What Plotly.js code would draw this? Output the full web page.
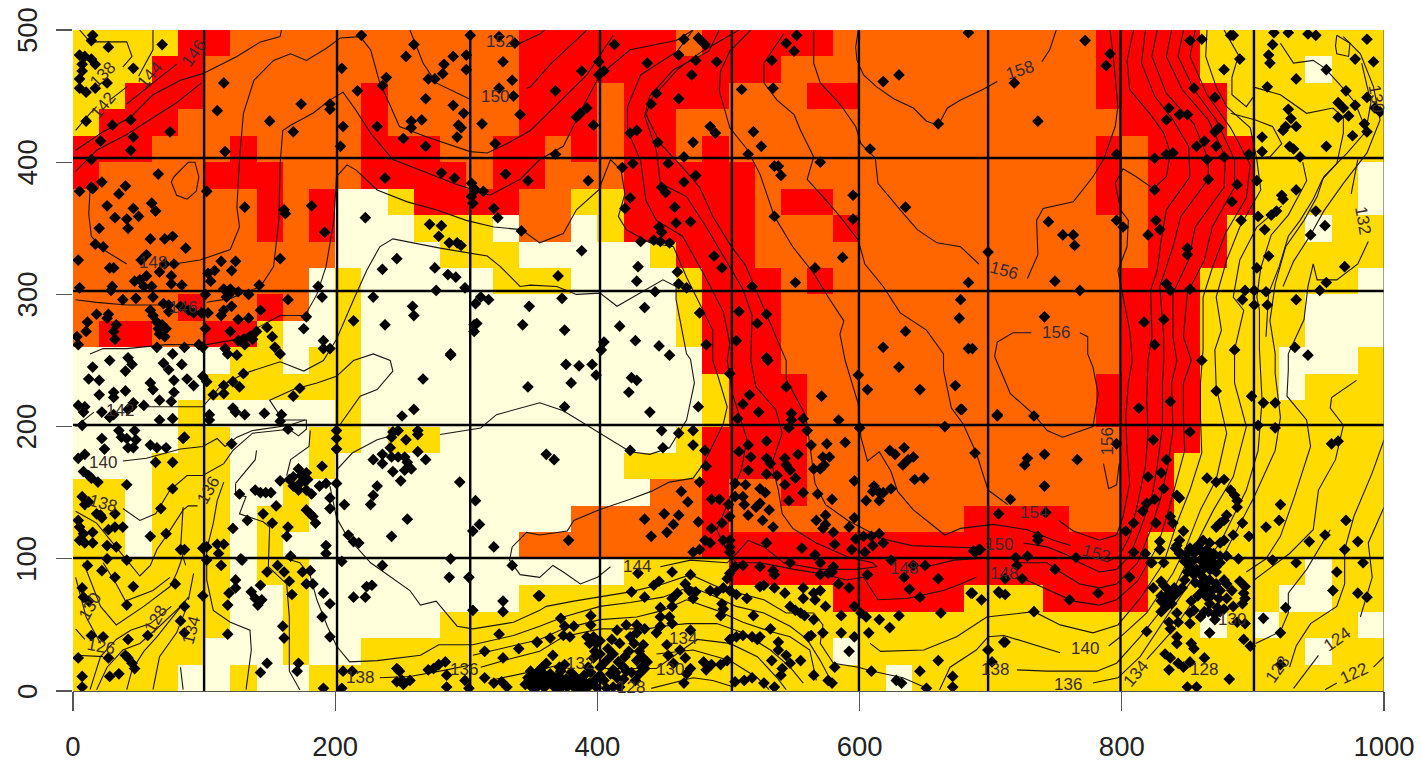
<!DOCTYPE html>
<html><head><meta charset="utf-8">
<script src="https://cdn.plot.ly/plotly-3.0.1.min.js"></script>
<style>html,body{margin:0;padding:0;background:#fff}#c{width:1422px;height:763px}</style>
</head><body><div id="c"></div>
<script>
// category per 20x20 cell, rows listed from the top (y 480-500) down, as run lengths
const rowRuns = [
"Y4 R2 O11 R6 O1 R5 O10 R4 Y7",
"Y3 R2 O12 R10 O12 R4 Y4 W1 Y2",
"Y2 R3 O6 R1 O5 R3 O1 R4 O3 R2 O9 R5 Y6",
"Y1 R3 O7 R1 O5 R3 O1 R2 O17 R4 Y6",
"R3 O3 R1 O4 R3 O2 R2 O1 R1 O1 R2 O1 R1 O14 R1 O1 R4 Y5",
"R1 O4 R3 O3 R4 O1 R2 O3 R5 O13 R1 O1 R4 Y4 W1",
"O7 R1 O1 R1 W2 Y1 R4 O2 Y2 R5 O1 R2 O10 R1 O1 R4 Y4 W1",
"O7 R1 O1 R1 W3 Y3 W1 O2 W1 Y1 R5 O3 R1 O11 R3 Y3 W1 Y2",
"O10 W4 Y3 W5 Y1 R3 O15 R3 Y6",
"O9 W1 Y1 W5 Y3 W4 Y1 R3 O1 R1 O11 R3 Y6 W1",
"O4 R1 O2 R1 O1 W1 Y1 W12 Y1 R3 O13 R3 Y4 W3",
"O1 R2 O2 R2 Y1 W2 Y1 W12 Y1 R3 O13 R3 Y4 W3",
"W6 Y2 W1 Y2 W13 R3 O13 R3 Y3 W3 Y1",
"W5 Y6 W13 Y1 R3 O11 R4 Y3 W1 Y3",
"W4 Y1 W5 Y1 W13 Y1 R3 O11 R4 Y7",
"W4 Y2 W3 Y2 W1 Y2 W9 Y1 R4 O12 R3 Y7",
"W3 Y3 W3 Y1 W11 Y3 R4 O12 R2 Y8",
"Y2 W1 Y3 W2 Y1 W13 O2 R1 O2 R1 O12 R2 Y8",
"Y2 W1 Y3 W1 Y2 W10 O5 R1 O9 R4 O2 R2 Y8",
"Y2 W1 Y3 W1 Y1 W9 O7 R17 Y9",
"Y6 W1 Y2 W12 Y4 R16 Y6 W1 Y2",
"Y6 W2 Y1 W8 Y12 R5 Y3 R4 Y5 W2 Y2",
"Y6 W2 Y1 W5 Y29 W1 Y1 W1 Y3 W1",
"Y5 W3 Y1 W2 Y18 W1 Y17 W1 Y2",
"Y4 W2 Y1 W2 Y22 W1 Y18"
];
const classColors = ["#FFFFDC","#FFDB00","#FF6600","#FF0000"];
const classCodes = {W:0,Y:1,O:2,R:3};
const cellXs = [10,30,50,70,90,110,130,150,170,190,210,230,250,270,290,310,330,350,370,390,410,430,450,470,490,510,530,550,570,590,610,630,650,670,690,710,730,750,770,790,810,830,850,870,890,910,930,950,970,990];
const cellYs = [10,30,50,70,90,110,130,150,170,190,210,230,250,270,290,310,330,350,370,390,410,430,450,470,490];

const gridXs = [100,201.4,303,402,502.6,599.5,698,799,900.8];
const gridYs = [100.6,201.2,302.6,403.2];
const xTicks = [0,200,400,600,800,1000];
const yTicks = [0,100,200,300,400,500];

// contours: flat x,y lists
const contours = [
[599,500,597,487,598,477,603,466,613,457,626,448,641,441,651,431,660,428,667,441,677,447,694,455,705,461],
[739,476,745,485,750,500],
[565,500,565,475,570,460,585,444,597,427,601,414,612,403,614,384,631,364,644,349,659,339,677,336,691,323],
[728,312,736,330,735,356,740,365,763,370,778,389,786,402,795,427,797,442,794,475,791,500],
[731,271,717,271,705,264,703,253,715,225,733,209,743,197,755,192,778,200,782,225,778,245,774,255,774,268,768,271],
[542,497,527,475,527,460,537,447,550,436,555,424,565,404,560,387,572,374,585,359,599,341,604,323,618,306,631,286,651,273,664,255,664,243,670,214,679,202,689,180,698,152,713,141],
[752,129,763,121,783,114,796,118,801,132,806,157,804,182,803,207,805,233,808,250,806,273,799,306,797,318,804,336,805,356,799,364,795,384,801,395,811,389,824,380,834,389,837,407,832,422,822,436,806,455,804,477,809,500],
[786,172,790,153,796,156,798,172],
[517,500,501,484,494,469,493,454,501,426,514,410,524,391,535,359,549,336,565,316,576,298,588,280,585,270,589,250,599,217,601,192,606,174,615,181,624,166,629,151,641,137,654,127,665,118,677,123,702,126,728,122,748,114,761,110],
[789,98,798,102,806,117,811,137,818,170,820,195,819,221,820,250,823,268,822,303,827,318,830,341,834,364,852,389,851,412,839,432,825,450,815,475,818,500],
[508,500,480,484,461,470,442,449,437,436,448,414,465,396,478,381,488,359,501,338,513,322,544,250,544,236,559,208,566,157,574,141,591,129,618,115,640,110,677,109,695,108],
[725,112,743,109,758,103,768,97,783,90,796,92,806,102,814,122,823,147,827,170,831,200,831,233,832,250,832,268,829,306,839,336,845,359,866,387,866,402,855,429,834,452,823,480,827,500],
[493,500,485,484,458,470,440,450,436,435,445,409,448,384,468,374,483,351,498,326,511,304,518,284,517,250,521,230,536,213,541,195,533,172,538,152,541,134,549,123,567,112,592,101,610,97,613,94],
[651,94,672,99,689,100],[720,97,743,97,753,90,768,81,783,78,796,81,812,97,822,122,830,147,835,170,839,197,838,233,842,250,839,268,839,301,851,326,856,351,878,381,879,404,866,432,846,455,834,480,838,500],
[473,500,461,484,433,466,423,442,423,424,433,401,437,371,445,356,465,344,483,312,496,287,501,263,499,250,503,225,514,191,510,168,499,141,491,122,499,106,506,97,524,97,550,92,570,89,590,84,603,86,614,69,636,70,664,76,677,81,689,86],
[725,85,748,75,763,68,783,65,796,69,812,83,827,109,835,134,841,157,848,182,847,207,847,233,853,250,847,268,850,301,863,326,869,351,886,381,886,402,872,432,855,455,843,480,847,500],
[608,36,616,30,649,31,674,41,697,56,733,60,753,50,778,44,797,50,814,70,832,97,842,127,852,152,861,180,860,207,860,233,862,258,862,268,862,298,869,320,879,346,895,373,898,398,883,426,865,451,852,480,856,500],
[661,1,669,18,689,31,698,41,710,42,753,29],[790,34,799,41,819,59,839,89,849,109,860,137,872,160,880,195,872,230,871,258,876,273,872,298,880,326,890,351,906,379,903,402,898,426,880,442,872,457,864,480,865,500],
[720,16,743,15,781,15,796,21,814,41,834,66,852,102,870,137,885,162,895,200,886,233,886,258,893,288,885,298,890,326,903,351,922,367],
[778,6,797,10,814,26,834,56,857,89,875,112,895,152,904,182,907,220,905,258,905,288,903,298,906,320,914,345,927,360,941,386,938,400],
[819,24,839,46,860,76,880,107,901,147,917,182,921,207,917,240,917,255,913,280,917,308,925,336,939,356,949,374,954,389,972,407,986,423,990,445,983,475],
[980,402,975,376],[988,340,980,323,964,311,949,311,946,323,942,306,939,281,927,255,927,243,926,223,941,205,944,185,931,145,921,117,910,100,895,90],
[979,235,960,222,959,214,969,201,963,175,950,152,946,122,928,104,901,84],
[1000,190,991,165,977,132,970,107,970,81,964,64,944,51,933,34,928,18],
[1000,139,988,112,991,86,982,56],[950,27,939,13,931,2],[1000,26,992,18],[964,6,955,1],
[902,36,921,45,927,59,927,74,941,92,953,112,959,122],
[13,379,12,361,14,344,23,334,41,323],[77,323,97,326,120,334,127,351,125,366,127,402,130,437,138,462,153,477,166,482,178,477,193,486,204,494,219,495,227,485,234,460,241,445,249,427,270,419,303,408,316,407,331,414,349,424,374,448,392,466,412,496],
[257,500,267,475,277,460,302,448],[346,456,349,457,364,474,380,489,392,500],[341,490,356,497,360,500],
[2,296,18,294,41,292,70,292],[102,294,120,297,143,306,153,321,157,356,158,399,160,424,166,428,183,437,196,447,206,453,216,439,227,422,244,402,270,392,290,384,318,375,341,387,356,402,374,412,389,442,402,466,425,485,460,492,473,500],
[2,409,23,423,44,434,61,451,82,462,99,467,125,480,143,491,158,495,159,500],
[2,393,18,409,41,421,79,445,98,460],[61,500,61,485,50,465],[41,457,28,447],[79,474,66,464,41,444],[5,500,13,491,41,491,45,480,38,472],[2,424,13,437,18,442],
[77,389,88,400,93,400,96,389,94,378,87,372,79,375,75,385,77,389],
[13,255,23,259,41,259,71,262,102,262,125,266,143,276,158,284,177,284,186,300,193,321,199,356,201,389,209,398,216,394,232,379,255,370,277,364,300,356,321,351,342,349,356,339,374,346,384,364,401,379,410,402,418,394,421,376,416,359,422,349,440,339,458,336,468,313,478,293,488,273,488,250,492,238,499,215,496,202,481,172,473,161,455,158,441,151,425,145,401,137,382,129,377,121,356,118,346,120,335,109,333,99,341,88,356,86,366,95,374,90,387,81,400,86,410,94],
[448,94,471,99,499,97,506,104,515,114,527,109,542,97,570,92,598,92,613,94],
[196,155,201,131,209,117,227,97,257,76,265,65,277,68,293,49,305,47,336,52,356,61,361,64,382,68,402,71,425,75,450,81,471,88,491,79,504,75,527,69,544,59,565,59,572,50,570,36,580,21,599,18,610,15,633,10,654,1],
[201,167,213,180,232,190,246,194],[280,194,311,199,323,209,356,218,374,212,387,204,402,195,425,181,440,179,455,184,468,205,474,233,471,251,468,255,460,296,460,306,450,311,436,303,415,291,402,301,384,300,369,306,349,307,341,306,326,321,316,329,280,335,244,342,234,336,224,318,214,296,201,266,191,250,176,242,158,249,130,240,112,230,99,215,54,215],
[16,211,2,200],
[38,174,56,176,82,183,99,185,110,191,116,185,125,192,137,197,165,201,177,205],
[38,138,51,129,63,134,74,152,87,163,99,163,115,172,122,182,137,195,165,198,172,193,178,198,178,205,160,205,150,220,168,228,186,233,201,238,214,250,229,255,242,250,244,242,232,228,219,223,204,202],
[181,197,180,185,166,175,163,163],
[2,136,18,127,41,99,51,87,59,95,64,107,71,117,84,137,88,140,95,140],
[84,139,82,107,86,95],
[115,158,110,144,107,127,102,107,102,84,107,61,120,52,135,46,136,31,132,1],
[124,157,124,149,132,147,127,134,145,128,150,124,149,94,163,81,165,56,165,15,173,1],
[140,182,139,175,124,157],
[160,101,173,97,181,87,186,69,194,49,201,34,211,22,232,23,265,27,279,35,305,35,336,42,356,49,374,56,402,64,425,67,450,71,471,79,491,71,506,64,527,59,547,49,560,39,570,23,578,8],
[305,27,336,34,356,39,374,47,402,54,430,56,450,61,468,69,491,61,511,52,532,45,547,41,562,31,567,8],
[311,18,336,25,356,30,374,41,402,47,438,47,450,49,468,51,491,51,511,44,532,31,547,18,557,6],
[318,8,356,16,372,20],[399,17,445,17,476,39,501,36,522,26,537,10,544,1],
[445,28,473,31,501,23,522,10,531,1],[441,2,473,10,488,8,504,3],
[234,10,257,11,285,16,305,20],
[8,97,21,64,33,50,54,64,74,79,79,89,82,97,85,107],
[23,97,33,81,40,68,61,76,74,86],
[2,86,10,56,21,36],[2,47,9,39],
[88,71,76,56,64,41,54,30,45,16,41,1],
[82,64,66,49,51,36,38,31,26,18,18,1],
[75,64,59,51,44,46,33,39,21,26,13,1],
[2,27,23,26],
[92,89,88,69],
[87,64,79,44,66,26,61,1],
[82,18,84,1],
[878,500,889,481,884,464,884,451,895,442,900,449],
[900,457,921,451,941,437,961,441,969,434,969,422,964,399,953,387,946,372,936,356,927,344,920,321,912,301,910,268],
[883,437,902,432,915,427,922,414,913,404,901,403],
[921,490,931,475,946,477,955,471,966,459,978,445,986,425],
[964,496,974,490,973,480,964,482,963,488,964,496],
[969,495,982,482,992,457,997,432,987,407,969,384,954,363,944,345,931,325,923,306]
];

const labelTexts = ["152","150","146","144","142","138","148","146","158","156","156","156","154","150","152","148","148","144","140","138","136","134","128","128","124","122","130","132","130","142","140","138","136","134","128","126","130","138","136","134","132","130","128"];
const labelXs = [326,322,92,59,23,23,61,84,722,710,750,789,733,706,780,710,634,430,772,703,759,811,863,919,964,977,884,984,994,36,23,23,103,90,63,21,13,219,298,465,387,455,426];
const labelYs = [491,450,482,466,443,466,324,290,469,318,271,189,135,111,104,89,93,94,32,16,5,13,16,16,39,13,54,356,448,212,173,142,152,46,54,34,64,10,16,40,21,16,3];
const labelAngles = [0,0,-55,-50,-50,-45,0,0,-18,15,0,-90,0,0,15,0,0,0,0,0,0,-50,0,-55,-35,-25,0,80,80,0,0,15,-60,-75,-60,10,-60,0,0,0,0,0,0];

const points = [
[15,496],[14,492],[27,487],[68,489],[5,481],[9,480],[14,478],[17,474],[7,474],[7,469],[5,463],[26,460],[5,456],[10,453],[17,456],[46,471],[10,431],[30,428],[44,432],[21,416],[46,419],[74,423],[44,409],[14,402],
[65,391],[22,385],[14,381],[15,380],[5,378],[40,382],[35,376],[26,367],[60,369],[63,363],[46,365],[50,359],[32,358],[41,357],[42,350],[20,350],[59,342],[70,342],[76,344],[17,338],[23,336],[86,335],[56,330],[52,326],[4,326],[28,320],[31,320],[66,317],[70,323],[77,323],[75,314],[56,314],[51,311],[47,310],[83,307],[75,308],[60,306],[54,306],[30,306],[29,303],[5,305],
[38,296],[48,297],[61,298],[69,293],[73,292],[59,288],[61,284],[73,287],[82,291],[88,288],[92,286],[18,285],[27,285],[26,282],[11,279],[10,272],[33,277],[31,272],[32,266],[64,279],[68,277],[71,274],[65,274],[66,270],[70,268],[3,268],[4,262],[64,260],[85,260],[96,262],[99,260],
[102,378],[131,366],[115,460],[110,439],[150,431],[174,444],[196,444],[196,440],[168,423],[116,408],[161,364],[162,361],[182,367],[192,347],[158,327],[113,325],[124,325],[108,318],[121,318],[103,316],[105,310],[142,307],[115,304],[120,304],[126,302],[134,300],[117,298],[119,300],[101,300],[121,291],[115,288],[103,286],[98,286],[113,284],[143,288],[164,296],[126,281],[134,282],[178,283],[148,275],[176,274],[101,274],[120,272],[140,272],[135,268],[130,266],[126,265],[131,262],[137,266],[152,268],[154,260],[158,255],[116,259],[118,255],[125,254],[191,265],[191,259],[196,259],[187,306],[190,298],[214,280],[223,358],[247,327],[236,319],[276,320],[286,315],[292,313],[299,305],[277,303],[229,298],[259,291],[260,284],[238,277],[288,254],[306,277],[306,272],[308,278],[307,293],[311,298],[317,296],[348,291],[343,277],
[324,358],[342,348],[272,353],[281,352],[279,344],[287,339],[293,339],[296,337],
[220,496],[260,489],[303,496],[205,471],[239,464],[236,458],[217,454],[254,480],[290,480],[283,474],[282,467],[300,481],[300,470],[271,463],[276,463],[269,448],[290,443],[298,437],[258,431],[266,432],[258,426],[294,428],[296,426],[293,419],[232,427],[206,427],[204,412],[252,418],[269,412],[281,392],[291,388],[238,388],[304,384],[307,379],[313,378],[304,374],[305,369],[321,365],[322,414],[312,429],[341,436],[335,462],[325,456],[336,450],[328,476],[325,495],[337,490],[330,391],[347,386],
[413,489],[388,469],[401,476],[405,469],[401,466],[368,454],[438,475],[462,481],[466,493],[477,494],[480,491],[482,489],[475,477],[472,466],[491,476],[445,452],[441,444],[462,448],[552,496],[544,490],[550,484],[533,477],[534,456],[510,455],[392,441],[387,437],[384,434],[397,428],[486,427],[490,422],[519,423],[525,412],[430,424],[425,422],[446,415],[473,415],[368,406],[466,404],[427,399],[419,396],[454,399],[515,406],[535,397],[538,397],[540,390],[570,400],[393,386],[475,390],[466,385],[449,381],[452,377],[595,375],[425,373],[421,365],[459,366],[535,359],[471,355],[460,354],[595,357],[447,351],[449,347],[635,366],[608,410],[618,461],[630,466],[660,429],[683,498],[433,340],[443,341],[448,340],[455,339],[388,333],[489,329],[587,328],[495,320],[566,320],[698,332],[431,321],[430,310],[461,317],[462,308],[468,305],[551,309],[370,314],[518,306],[444,302],[683,309],[677,296],[676,282],[373,297],[436,290],[529,285],[508,287],[522,278],[478,286],[417,276],[375,273],[429,265],[447,261],[455,254],[405,264],[403,258],[483,262],[506,265],[635,272],[618,260],[683,259],[686,259],[529,252],
[772,492],[718,460],[736,431],[791,482],[788,473],[796,406],[852,492],[861,493],[855,456],[871,449],[836,441],[834,432],[844,436],[850,436],[871,423],[874,426],[863,416],[857,412],[872,412],[878,404],[897,406],[825,403],[834,406],[839,407],[866,387],[865,402],[825,379],[888,383],[884,370],[903,386],[744,355],[755,345],[763,345],[764,337],[796,356],[801,351],[820,345],[826,356],[829,349],[850,335],[850,330],[749,310],[768,303],[834,308],[837,303],[852,304],[741,283],[817,279],[832,281],[825,262],[891,356],[904,359],[909,349],[914,360],[918,363],[922,375],[923,372],[933,379],[912,329],[903,320],[944,345],[955,352],[948,363],[970,321],[956,309],[951,303],[933,296],[894,303],[901,303],[910,302],[892,296],[901,292],[911,292],[886,258],[932,260],[942,254],
[885,496],[883,496],[890,478],[878,470],[915,489],[912,481],[913,475],[911,457],[916,498],[927,498],[942,497],[948,496],[987,493],[978,478],[992,476],[956,470],[933,463],[971,454],[965,445],[969,441],[978,443],[987,449],[993,441],[997,438],[965,434],[973,435],[985,429],[987,423],[976,420],[927,440],[929,433],[933,427],[925,427],[923,424],[907,419],[907,408],[928,412],[931,410],[956,412],[936,404],
[28,250],[42,252],[45,247],[40,242],[12,236],[20,235],[15,245],[20,224],[31,226],[31,222],[40,227],[9,215],[4,216],[8,211],[22,211],[28,207],[31,209],[46,218],[45,215],[42,213],[54,216],[7,201],[66,205],[76,206],[59,233],[61,228],[66,220],[75,219],[77,226],[77,235],[87,236],[92,231],[69,248],[73,243],[83,247],[76,255],
[35,197],[47,197],[37,192],[41,191],[48,190],[42,184],[46,184],[22,191],[24,183],[59,186],[64,184],[71,184],[4,176],[9,179],[63,173],[76,173],[8,166],[12,163],[14,161],[19,158],[41,156],[76,153],[7,147],[12,143],[9,141],[18,134],[22,131],[32,134],[21,133],[32,124],[38,124],[4,129],[5,124],[8,119],[15,120],[27,122],[5,114],[9,112],[15,112],[26,110],[33,109],[67,138],[59,117],[71,119],[82,107],[85,107],
[26,100],[41,99],[11,95],[22,91],[32,86],[46,79],[7,78],[8,71],[12,68],[41,65],[14,42],[23,41],[42,39],[57,42],[40,27],[42,25],[45,21],[47,17],[27,25],[35,13],[28,11],[4,25],[7,11],[7,3],[78,81],[85,64],[82,53],[85,44],
[99,238],[102,234],[107,224],[115,225],[115,231],[122,234],[127,230],[130,240],[173,229],[168,223],[122,214],[124,211],[131,209],[146,210],[159,209],[104,209],[104,205],[158,204],[164,198],[85,192],[84,191],[121,187],[201,197],[201,191],[201,183],[190,170],
[168,162],[172,168],[178,165],[173,157],[177,159],[168,155],[178,152],[182,149],[188,155],[193,157],[201,157],[158,159],[165,160],[174,163],[179,160],[172,152],
[196,146],[196,138],[207,141],[127,149],[139,152],[143,150],[147,150],[151,150],[155,140],[145,134],[152,127],[133,129],[122,123],[164,124],[163,117],[178,137],[181,134],[183,132],[185,127],[193,110],[193,104],[166,102],[99,108],[102,109],[110,111],[115,111],[111,104],[102,99],[113,95],[128,100],[129,99],[148,90],[156,95],[161,90],[165,83],[175,90],[181,91],[178,81],[183,81],[167,73],[191,74],[196,66],[190,56],[196,41],[143,80],[124,84],[124,78],[119,74],[118,65],[136,75],[139,70],[141,65],[144,69],[160,49],[161,40],[99,72],[118,43],[148,21],[143,14],[172,21],[171,15],[191,2],[205,2],[206,15],[213,15],
[267,236],[288,255],[347,230],[260,213],[251,208],[248,197],[244,196],[243,192],[263,197],[254,190],[263,194],[242,184],[263,181],[269,175],[236,179],[229,175],[236,172],[243,177],[248,177],[253,177],[255,173],[244,166],[253,167],[258,168],[250,159],[232,155],[229,148],[227,141],[295,158],[255,130],[243,117],[307,144],[310,126],[305,121],[321,109],[210,118],[214,113],[218,112],[205,98],[236,95],[288,100],[287,86],[302,86],[335,95],[224,79],[228,80],[223,71],[214,71],[328,68],[328,60],[305,61],[325,43],[355,72],
[247,17],[249,15],[247,7],[251,8],[252,5],[257,8],[271,16],[275,17],[279,20],[284,22],[285,12],[285,3],[299,8],[302,2],[314,30],[314,10],[328,25],[321,6],[327,7],[340,32],[354,37],[349,15],[347,10],[354,6],[331,3],
[376,247],[386,246],[396,247],[399,239],[380,233],[426,237],[430,235],[424,226],[375,215],[440,211],[477,215],[449,197],[462,195],[473,197],[473,186],[450,184],[425,182],[361,179],[367,175],[478,158],[464,151],[469,143],[436,130],[451,134],[462,133],[458,126],[453,120],[441,117],[477,128],[378,114],[482,182],[483,170],[530,250],[544,230],[571,223],[599,239],[606,228],[630,245],[646,228],[673,231],[677,213],[705,208],[501,240],[516,224],[511,217],[523,211],[507,206],[548,210],[548,205],[557,206],[546,199],[560,197],[584,205],[600,199],[665,200],[515,186],[529,189],[508,181],[517,177],[529,176],[532,172],[543,176],[544,171],[553,179],[515,167],[529,164],[537,163],[547,167],[551,161],[505,157],[513,156],[543,156],[557,150],[524,153],[528,150],[505,147],[511,147],[512,141],[524,142],[521,139],[531,137],[546,144],[515,133],[526,129],[534,124],[487,145],[493,145],[500,141],[495,127],[487,123],[501,132],[482,114],[486,112],[496,114],[501,114],[501,109],[473,105],[478,107],[501,105],[529,112],[556,108],[547,97],
[575,187],[589,188],[572,177],[577,177],[573,171],[565,168],[570,168],[563,186],[568,149],[579,145],[596,159],[574,133],[567,129],[574,126],[572,123],[580,120],[596,131],[592,124],[597,115],[603,117],[609,117],[615,119],[610,110],[618,112],[581,111],[594,107],[604,105],[566,103],[570,97],[580,94],[579,90],[576,89],[570,88],[623,182],[627,179],[634,184],[641,177],[637,175],[633,171],[642,160],[649,161],[611,155],[610,151],[615,150],[624,153],[618,150],[605,144],[615,144],[688,180],[706,134],[688,105],[692,107],[624,99],
[505,94],[511,95],[524,94],[534,91],[535,88],[524,79],[527,80],[535,78],[543,74],[557,78],[565,74],[570,76],[557,70],[566,69],[574,64],[547,64],[551,61],[555,59],[558,57],[565,54],[584,81],[592,78],[586,57],[596,64],[606,88],[634,86],[641,95],[650,95],[660,85],[638,77],[646,71],[601,59],[605,56],[615,54],[630,57],[623,48],[662,59],[607,44],[596,41],[586,44],[572,44],[563,42],[561,41],[592,30],[581,18],[609,15],[660,23],[646,15],[628,8],[632,6],[651,2],[671,11],[671,3],[698,31],[711,37],[685,74],[693,69],[706,75],[711,73],[565,12],[576,8],[579,6],
[519,57],[532,47],[511,42],[518,41],[522,39],[524,41],[538,37],[538,31],[533,23],[544,27],[547,21],[541,17],[540,12],[555,23],[518,10],[512,8],[527,6],[505,7],[535,3],[501,39],[506,41],
[486,76],[491,75],[496,78],[501,76],[495,66],[496,62],[494,57],[506,73],[514,70],[499,85],[501,89],
[426,75],[436,71],[443,80],[447,83],[457,90],[471,88],[431,89],[467,81],[470,76],[475,75],[473,70],[457,70],[461,74],[457,64],[448,63],[448,56],[455,56],[448,49],[457,51],[445,44],[471,46],[453,35],[463,31],[454,27],[467,25],[458,21],[471,17],[481,22],[487,20],[494,20],[483,16],[468,13],[466,6],[499,23],
[356,72],[372,55],[395,57],[395,50],[375,49],[382,49],[374,42],[379,41],[364,40],[354,37],[392,41],[397,41],[394,36],[399,36],[402,38],[411,39],[415,46],[422,50],[430,50],[436,47],[430,44],[425,41],[417,36],[435,35],[432,30],[421,26],[430,23],[436,17],[432,13],[422,15],[412,16],[397,25],[393,18],[402,18],
[351,8],[356,16],[361,21],[366,27],[371,18],[364,13],[356,8],[371,11],[379,8],[387,7],[377,3],[366,6],[359,3],[351,2],[382,3],[394,6],[399,3],[405,8],[410,13],[415,10],[412,3],[407,2],[417,3],[345,5],[370,5],[374,6],[385,2],[368,2],[376,9],[362,9],[360,12],
[349,4],[353,12],[358,18],[363,6],[368,10],[372,15],[375,20],[380,14],[384,10],[390,12],[395,14],[388,3],[392,2],[398,8],[402,12],[360,3],[354,3],[372,2],[381,5],[391,6],[404,20],[408,24],[412,28],[416,22],[420,18],[424,30],[428,36],[434,26],[438,22],[408,32],[414,14],[420,9],[426,14],[429,8],[434,18],[402,28],[398,30],
[861,250],[872,227],[837,219],[813,214],[899,223],[908,218],[917,218],[904,201],[917,199],[678,213],[705,209],[733,208],[728,176],[726,171],[741,179],[766,175],[741,155],[715,145],[742,135],[796,187],[824,190],[852,196],[834,175],[830,165],[820,162],[832,153],[819,142],[825,145],[816,136],[809,127],[826,127],[803,121],[837,132],[839,127],[842,148],[844,146],[960,187],[965,189],[865,161],[872,158],[878,160],[921,141],[920,129],[910,124],[971,129],[955,118],[943,113],[980,113],[970,107],[915,99],[933,97],[964,90],[984,97],[961,76],[980,74],[987,71],[925,63],[908,55],[921,44],[898,34],[921,20],[882,9],[736,117],[736,114],[765,101],[749,92],[782,74],[760,69],[806,86],[809,105],[818,104],[822,97],[687,106],[691,107],[719,101],[728,102],[720,95],[724,85],[711,85],[686,74],[707,74],[733,60],[710,37],[698,31],[701,22],
[844,114],[847,121],[842,110],[829,113],[829,107],[823,97],[832,97],[830,83],[824,78],[836,76],[840,78],[835,71],[830,68],[838,70],[830,60],[842,59],[836,52],[843,52],[837,47],[819,45],[842,41],[842,36],[853,36],[855,32],[833,28],[837,25],[843,21],[847,18],[836,16],[852,22],[863,25],[850,3],[857,3],
[855,104],[860,107],[865,107],[870,104],[875,102],[855,99],[860,99],[865,99],[870,97],[852,94],[857,92],[862,94],[867,92],[872,90],[862,86],[867,84],[872,81],[878,84],[864,79],[869,76],[860,81],[875,97],[880,102],[862,114],[867,112],[875,112],[878,114],[885,118],[872,124],[875,127],[880,133],[878,129],[892,127],[897,117],[889,100],[841,108],[850,104],[845,104],
[844,104],[848,98],[852,108],[858,110],[862,104],[868,102],[850,90],[855,88],[860,90],[866,96],[872,94],[848,84],[856,82],[862,76],[868,72],[874,70],[866,60],[871,54],[878,62],[880,70],[884,76],[858,72],[853,68],[846,78],[832,80],[836,74],[830,72],[838,66],[834,64],[842,74],
[883,152],[886,148],[888,144],[888,139],
[890,83],[894,79],[893,74],[894,70],[892,66],[885,64],[880,81],[875,76],[865,71],[867,66],[873,63],[875,60],[871,58],[855,61],[852,59],[860,56],[852,51],[863,60],[867,44],[888,52],[894,51],[893,39]
];

// ---- build
const z = rowRuns.map(r => {
  const row = [];
  r.split(" ").forEach(t => { const c = classCodes[t[0]], n = +t.slice(1); for (let i=0;i<n;i++) row.push(c); });
  return row;
}).reverse();

const traces = [{
  type:"heatmap", x:cellXs, y:cellYs, z:z, zmin:0, zmax:3, showscale:false, hoverinfo:"skip",
  colorscale:[[0,classColors[0]],[0.25,classColors[0]],[0.25,classColors[1]],[0.5,classColors[1]],[0.5,classColors[2]],[0.75,classColors[2]],[0.75,classColors[3]],[1,classColors[3]]]
}];
contours.forEach(c => {
  const xs=[],ys=[];
  for (let i=0;i<c.length;i+=2){xs.push(c[i]);ys.push(c[i+1]);}
  traces.push({type:"scatter",mode:"lines",x:xs,y:ys,line:{color:"#1c1414",width:1.1},hoverinfo:"skip",showlegend:false});
});
traces.push({type:"scatter",mode:"markers",x:points.map(p=>p[0]),y:points.map(p=>p[1]),
  marker:{symbol:"diamond",size:9,color:"#000"},hoverinfo:"skip",showlegend:false});
gridXs.forEach(v=>traces.push({type:"scatter",mode:"lines",x:[v,v],y:[0,504],cliponaxis:false,line:{color:"#000",width:2.4},hoverinfo:"skip",showlegend:false}));
gridYs.forEach(v=>traces.push({type:"scatter",mode:"lines",x:[-2,1003],y:[v,v],cliponaxis:false,line:{color:"#000",width:2.4},hoverinfo:"skip",showlegend:false}));
traces.push({type:"scatter",mode:"lines",x:[1000,1000],y:[0,500],cliponaxis:false,line:{color:"#666",width:1.2},hoverinfo:"skip",showlegend:false});
traces.push({type:"scatter",mode:"lines",x:[-12,0],y:[0,0],cliponaxis:false,line:{color:"#555",width:1.2},hoverinfo:"skip",showlegend:false});

const contourNotes = labelTexts.map((t,i)=>({x:labelXs[i],y:labelYs[i],xref:"x",yref:"y",text:t,textangle:labelAngles[i],showarrow:false,
    font:{size:17,color:"#3a2a2a",family:"Liberation Sans, Arial, sans-serif"}}));
const yTickNotes = yTicks.map(v=>({x:-0.0351,y:v,xref:"paper",yref:"y",text:String(v),textangle:-90,showarrow:false,xanchor:"center",yanchor:"middle",
    font:{size:27.5,color:"#222",family:"Liberation Sans, Arial, sans-serif"}}));

const layout = {
  width:1422,height:763,autosize:false,showlegend:false,
  paper_bgcolor:"#fff",plot_bgcolor:"#fff",
  margin:{l:73,r:38,t:30,b:72,pad:0},
  font:{family:"Liberation Sans, Arial, sans-serif",color:"#222"},
  xaxis:{range:[0,1000],tickmode:"array",tickvals:xTicks,ticktext:xTicks.map(String),ticks:"outside",ticklen:19,tickcolor:"#555",tickwidth:1.2,
    showgrid:false,zeroline:false,showline:true,linecolor:"#555",linewidth:1.4,tickfont:{size:27.5,color:"#222"},ticklabelstandoff:12,automargin:false},
  yaxis:{range:[0,500],tickmode:"array",tickvals:yTicks,showticklabels:false,ticks:"outside",ticklen:16,tickcolor:"#555",tickwidth:1.2,
    showgrid:false,zeroline:false,showline:false,automargin:false},
  annotations:contourNotes.concat(yTickNotes)
};
Plotly.newPlot("c",traces,layout,{displayModeBar:false,staticPlot:true});
</script></body></html>
